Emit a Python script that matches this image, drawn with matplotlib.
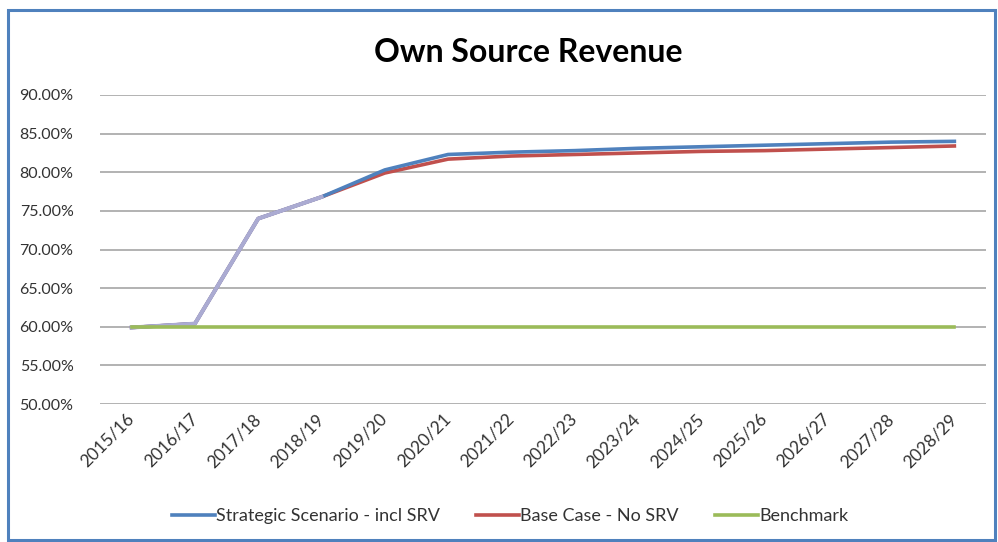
import matplotlib
matplotlib.use("Agg")
import matplotlib.pyplot as plt
from matplotlib.patches import Rectangle
from matplotlib.ticker import PercentFormatter

plt.rcParams["font.family"] = ["Lato", "DejaVu Sans"]

# values (percent)
years = ["2015/16", "2016/17", "2017/18", "2018/19", "2019/20", "2020/21", "2021/22",
         "2022/23", "2023/24", "2024/25", "2025/26", "2026/27", "2027/28", "2028/29"]
strategic = [59.9, 60.4, 74.0, 76.8, 80.3, 82.3, 82.6, 82.8, 83.1, 83.3, 83.5, 83.7, 83.9, 84.0]
base_case = [59.9, 60.4, 74.0, 76.8, 79.9, 81.7, 82.1, 82.3, 82.5, 82.7, 82.8, 83.0, 83.2, 83.4]
benchmark = [60.0] * len(years)

fig = plt.figure(figsize=(9.98, 5.42), dpi=100)
ax = fig.add_axes([100 / 998, 1 - 404 / 542, 886 / 998, 309 / 542])

x = list(range(len(years)))
ax.plot(x, base_case, color="#C0504D", lw=2.6, label="Base Case - No SRV", zorder=3)
ax.plot(x, strategic, color="#4F81BD", lw=2.6, label="Strategic Scenario - incl SRV", zorder=4)

# where both scenarios coincide the two lines blend into a lavender line
same = [i for i in x if strategic[i] == base_case[i]]
ax.plot(same, [strategic[i] for i in same], color="#ABABD2", lw=2.9, zorder=5)

ax.plot(x, benchmark, color="#9BBB59", lw=2.6, label="Benchmark", zorder=6)

ax.set_xlim(-0.5, len(years) - 0.5)
ax.set_ylim(50, 90)
ax.set_yticks(range(50, 91, 5))
ax.yaxis.set_major_formatter(PercentFormatter(decimals=2))
ax.grid(axis="y", color="#A6A6A6", lw=1.2)
ax.set_axisbelow(True)
for s in ax.spines.values():
    s.set_visible(False)
ax.tick_params(axis="y", length=0, pad=19, labelsize=11.5, labelcolor="#333333")
ax.tick_params(axis="x", length=0, pad=9, labelsize=12.5, labelcolor="#333333")
ax.set_xticks(x)
ax.set_xticklabels(years, rotation=45, ha="right", va="center", rotation_mode="anchor")

fig.text(528 / 998, 1 - 52 / 542, "Own Source Revenue", ha="center", va="center",
         fontsize=23, fontweight="bold", color="black")

handles, labels = ax.get_legend_handles_labels()
order = [1, 0, 2]
fig.legend([handles[i] for i in order], [labels[i] for i in order],
           loc="center", bbox_to_anchor=(510 / 998, 1 - 516 / 542), ncol=3,
           frameon=False, fontsize=13, handlelength=2.4, handletextpad=0.05,
           columnspacing=2.0, labelcolor="#333333")

fig.patches.append(Rectangle((8 / 998, 1 - 540 / 542), 987 / 998, 530 / 542,
                             transform=fig.transFigure, fill=False,
                             edgecolor="#4F81BD", lw=2.2))

fig.savefig("out.png", dpi=100, facecolor="white")
